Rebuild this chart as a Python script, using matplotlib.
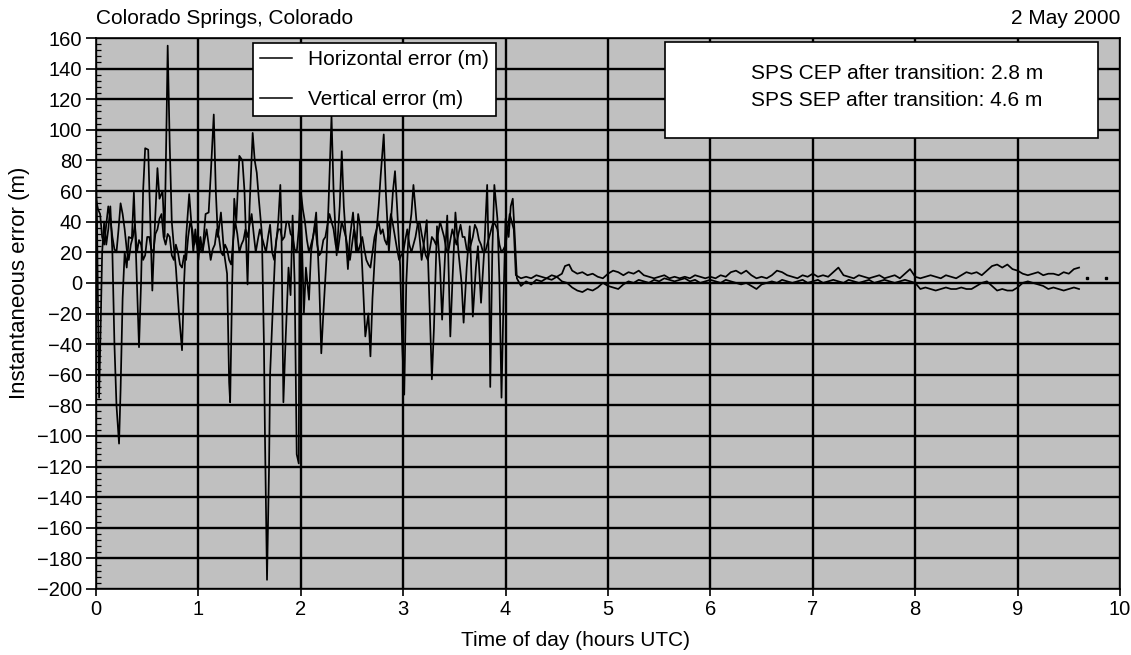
import matplotlib
matplotlib.use("Agg")
import matplotlib.pyplot as plt
from matplotlib.patches import Rectangle
from matplotlib.lines import Line2D
from matplotlib.ticker import MultipleLocator

plt.rcParams['font.family'] = ['Liberation Sans', 'DejaVu Sans']

# ---------------- data ----------------
vert_t = [0.00, 0.01, 0.02, 0.03, 0.045, 0.06, 0.08, 0.10, 0.12, 0.14, 0.16, 0.18, 0.20, 0.225, 0.24,
          0.26, 0.28, 0.30, 0.32, 0.35, 0.37, 0.39, 0.42, 0.44, 0.46, 0.48, 0.51, 0.53, 0.55, 0.57,
          0.60, 0.62, 0.65, 0.67, 0.69, 0.70, 0.72, 0.74, 0.76, 0.78, 0.81, 0.84, 0.86, 0.88, 0.91,
          0.93, 0.95, 0.97, 1.00, 1.02, 1.04, 1.07, 1.10, 1.12, 1.15, 1.17, 1.19, 1.22, 1.25, 1.28,
          1.30, 1.31, 1.33, 1.35, 1.37, 1.40, 1.43, 1.45, 1.48, 1.50, 1.53, 1.55, 1.57, 1.59, 1.62,
          1.64, 1.65, 1.67, 1.69, 1.70, 1.72, 1.75, 1.78, 1.80, 1.81, 1.83, 1.85, 1.88, 1.90, 1.92,
          1.94, 1.96, 1.98, 1.99, 2.01, 2.03, 2.05, 2.08, 2.10, 2.13, 2.15, 2.18, 2.20, 2.22, 2.25,
          2.27, 2.30, 2.32, 2.35, 2.38, 2.40, 2.42, 2.44, 2.46, 2.48, 2.51, 2.54, 2.56, 2.58, 2.60,
          2.63, 2.66, 2.68, 2.70, 2.73, 2.76, 2.78, 2.81, 2.83, 2.86, 2.88, 2.90, 2.92, 2.94, 2.97,
          2.99, 3.01, 3.03, 3.05, 3.08, 3.10, 3.13, 3.15, 3.18, 3.21, 3.23, 3.26, 3.28, 3.30, 3.33,
          3.36, 3.38, 3.41, 3.43, 3.46, 3.48, 3.51, 3.54, 3.57, 3.59, 3.62, 3.65, 3.68, 3.71, 3.73,
          3.76, 3.79, 3.82, 3.84, 3.85, 3.87, 3.89, 3.92, 3.94, 3.96, 3.98, 4.00, 4.03, 4.05, 4.07,
          4.09, 4.11,
          4.15, 4.20, 4.25, 4.30, 4.35, 4.40, 4.45, 4.50, 4.55, 4.60, 4.65, 4.70, 4.75, 4.80, 4.85,
          4.90, 4.95, 5.00, 5.05, 5.10, 5.15, 5.20, 5.25, 5.30, 5.35, 5.40, 5.45, 5.50, 5.55, 5.60,
          5.65, 5.70, 5.75, 5.80, 5.85, 5.90, 5.95, 6.00, 6.05, 6.10, 6.15, 6.20, 6.25, 6.30, 6.35,
          6.40, 6.45, 6.50, 6.55, 6.60, 6.65, 6.70, 6.75, 6.80, 6.85, 6.90, 6.95, 7.00, 7.05, 7.10,
          7.15, 7.20, 7.25, 7.30, 7.35, 7.40, 7.45, 7.50, 7.55, 7.60, 7.65, 7.70, 7.75, 7.80, 7.85,
          7.90, 7.95, 8.00, 8.05, 8.10, 8.15, 8.20, 8.25, 8.30, 8.35, 8.40, 8.45, 8.50, 8.55, 8.60,
          8.65, 8.70, 8.75, 8.80, 8.85, 8.90, 8.95, 9.00, 9.05, 9.10, 9.15, 9.20, 9.25, 9.30, 9.35,
          9.40, 9.45, 9.50, 9.55, 9.60]
vert_v = [70, 40, -20, -75, -30, 20, 40, 25, 35, 50, 20, -40, -80, -105, -70,
          -10, 20, 10, 30, 29, 59, 20, -42, 0, 60, 88, 87, 40, -5, 30,
          75, 55, 60, 30, 110, 155, 90, 40, 24, 10, -20, -44, 0, 30, 58,
          40, 20, 35, 15, 30, 20, 45, 46, 70, 110, 60, 30, 46, 20, 6,
          -65, -78, 0, 55, 40, 83, 80, 60, -1, 50, 98, 80, 72, 55, 32,
          -40, -100, -194, -120, -60, -27, 20, 40, 64, 40, -78, -40, 10, -8, 44,
          0, -112, -118, 80, 30, -20, 10, -11, 20, 35, 46, 0, -46, -20, 15,
          50, 109, 60, 18, 50, 86, 50, 30, 9, 30, 46, 20, 45, 37, 10,
          -35, -20, -48, -10, 26, 50, 70, 97, 60, 20, 40, 60, 73, 50, 11,
          -40, -73, 0, 29, 45, 64, 40, 37, 15, 30, 41, -20, -63, -30, 37,
          10, -24, 20, 44, -35, 0, 46, 20, 0, -26, 10, 37, -22, 10, 24,
          -13, 20, 64, 0, -68, 20, 64, 42, 0, -75, -10, 42, 30, 50, 55,
          30, 3,
          -2, 1, -1, 2, 1, 3, 2, 4, 1, 0, -3, -5, -6, -4, -5,
          -3, 0, -2, -3, -4, -1, 1, 0, 2, 1, 0, 2, 1, 3, 2,
          1, 2, 3, 1, 2, 0, 1, 2, 1, 0, 2, 1, 0, -1, 0,
          -2, -4, -1, 0, 1, 0, 2, 1, 0, 1, 2, 0, 1, 2, 0,
          1, 2, 1, 0, 2, 1, 0, 1, 2, 0, 1, 2, 1, 0, 1,
          2, 1, 0, -4, -3, -4, -5, -4, -3, -4, -4, -3, -4, -4, -2,
          0, 1, -2, -5, -4, -5, -5, -3, 0, 1, 0, -1, -2, -4, -3,
          -4, -5, -4, -3, -4]

# horizontal error before the transition, sampled every 0.02 h from 0.00 to 4.10 h
horiz_v1 = [55, 48, 45, 30, 25, 38, 50, 42, 30, 22,
            20, 35, 52, 45, 35, 22, 15, 25, 30, 38,
            20, 28, 25, 15, 18, 30, 30, 22, 20, 32,
            35, 42, 45, 30, 25, 32, 30, 18, 15, 25,
            20, 12, 10, 18, 15, 30, 40, 35, 25, 30,
            30, 22, 20, 28, 35, 25, 15, 22, 25, 35,
            30, 20, 18, 25, 22, 15, 12, 28, 40, 32,
            20, 25, 28, 35, 30, 38, 45, 32, 20, 28,
            35, 30, 25, 20, 30, 38, 20, 15, 28, 35,
            35, 28, 30, 40, 40, 32, 30, 22, 20, 35,
            60, 48, 40, 28, 20, 25, 30, 38, 25, 18,
            20, 28, 30, 38, 45, 40, 35, 25, 20, 30,
            40, 35, 30, 22, 15, 25, 35, 28, 20, 25,
            30, 22, 15, 12, 10, 20, 30, 35, 40, 32,
            35, 28, 25, 35, 45, 38, 30, 22, 15, 18,
            20, 28, 35, 25, 20, 25, 30, 38, 40, 32,
            25, 18, 15, 22, 30, 28, 25, 32, 40, 35,
            30, 22, 20, 28, 35, 30, 25, 32, 38, 30,
            30, 22, 20, 25, 30, 38, 35, 28, 25, 20,
            20, 25, 30, 35, 40, 38, 35, 25, 20, 22,
            25, 35, 45, 40, 35, 5]
horiz_t1 = [round(0.02 * i, 2) for i in range(len(horiz_v1))]

# horizontal error after the transition
horiz_t2 = [4.15, 4.20, 4.25, 4.30, 4.35, 4.40, 4.45, 4.50, 4.55, 4.58, 4.62, 4.65, 4.70, 4.75, 4.80,
            4.85, 4.90, 4.95, 5.00, 5.05, 5.10, 5.15, 5.20, 5.25, 5.30, 5.35, 5.40, 5.45, 5.50, 5.55,
            5.60, 5.65, 5.70, 5.75, 5.80, 5.85, 5.90, 5.95, 6.00, 6.05, 6.10, 6.15, 6.20, 6.25, 6.30,
            6.35, 6.40, 6.45, 6.50, 6.55, 6.60, 6.65, 6.70, 6.75, 6.80, 6.85, 6.90, 6.95, 7.00, 7.05,
            7.10, 7.15, 7.20, 7.25, 7.30, 7.35, 7.40, 7.45, 7.50, 7.55, 7.60, 7.65, 7.70, 7.75, 7.80,
            7.85, 7.90, 7.95, 8.00, 8.05, 8.10, 8.15, 8.20, 8.25, 8.30, 8.35, 8.40, 8.45, 8.50, 8.55,
            8.60, 8.65, 8.70, 8.75, 8.80, 8.85, 8.90, 8.95, 9.00, 9.05, 9.10, 9.15, 9.20, 9.25, 9.30,
            9.35, 9.40, 9.45, 9.50, 9.55, 9.60]
horiz_v2 = [3, 4, 3, 5, 4, 3, 5, 4, 6, 11, 12, 8, 6, 7, 5,
            6, 4, 3, 6, 8, 7, 5, 7, 6, 8, 5, 4, 3, 4, 5,
            3, 4, 3, 4, 3, 5, 4, 3, 4, 3, 5, 4, 7, 8, 6,
            8, 5, 3, 4, 3, 5, 8, 7, 5, 4, 3, 5, 4, 6, 4,
            5, 4, 7, 10, 5, 4, 3, 5, 4, 3, 4, 5, 3, 4, 5,
            3, 6, 9, 4, 3, 4, 5, 4, 3, 5, 4, 3, 5, 7, 6,
            7, 5, 8, 11, 12, 10, 12, 9, 8, 6, 5, 6, 7, 5, 6,
            6, 5, 7, 6, 9, 10]

dots_t = [9.68, 9.86]
dots_v = [3, 3]

y_ticks = list(range(-200, 161, 20))
x_ticks = list(range(0, 11))
legend_labels = ["Horizontal error (m)", "Vertical error (m)"]
stats_lines = ["SPS CEP after transition: 2.8 m", "SPS SEP after transition: 4.6 m"]

# ---------------- figure ----------------
FS = 15
fig = plt.figure(figsize=(11.31, 6.55), dpi=100)
ax = fig.add_axes([96 / 1131, 1 - 589 / 655, 1024 / 1131, 551 / 655])
ax.set_facecolor("#c0c0c0")

ax.set_xlim(0, 10)
ax.set_ylim(-200, 160)
ax.set_xticks(x_ticks)
ax.set_yticks(y_ticks)
ax.yaxis.set_minor_locator(MultipleLocator(4))
ax.grid(True, which="major", color="black", linewidth=1.7)
ax.set_axisbelow(True)

ax.plot(horiz_t1 + horiz_t2, horiz_v1 + horiz_v2, color="black", linewidth=1.25, zorder=3)
ax.plot(vert_t, vert_v, color="black", linewidth=1.25, zorder=3)
ax.plot(dots_t, dots_v, linestyle="none", marker="s", markersize=2, color="black", zorder=3)

for s in ax.spines.values():
    s.set_color("black")
    s.set_linewidth(1.2)
ax.tick_params(axis="both", which="major", labelsize=14.5, width=1.2, color="black")
ax.tick_params(axis="x", which="major", direction="out", length=5, pad=3)
ax.tick_params(axis="y", which="major", direction="out", length=7, pad=3)
ax.tick_params(axis="y", which="minor", direction="in", length=3.5, width=0.9)

ax.set_xlabel("Time of day (hours UTC)", fontsize=FS)
ax.xaxis.set_label_coords(0.468, -0.077)
ax.set_ylabel("Instantaneous error (m)", fontsize=FS + 1)
ax.yaxis.set_label_coords(-0.064, 0.555)

# legend
handles = [Line2D([], [], color="black", linewidth=1.1), Line2D([], [], color="black", linewidth=1.1)]
leg = ax.legend(handles, legend_labels, loc="upper left", bbox_to_anchor=(0.153, 0.991),
                fontsize=FS, frameon=True, fancybox=False, framealpha=1, edgecolor="black",
                handlelength=1.55, handletextpad=0.77, borderpad=0.35, labelspacing=1.0,
                borderaxespad=0)
leg.get_frame().set_linewidth(1.2)
leg.set_zorder(5)

# statistics box
ax.add_patch(Rectangle((0.5557, 0.8185), 0.4228, 0.1742, transform=ax.transAxes,
                       facecolor="white", edgecolor="black", linewidth=1.2, zorder=5))
ax.text(0.782, 0.936, stats_lines[0], transform=ax.transAxes, ha="center", va="center",
        fontsize=FS, zorder=6)
ax.text(0.782, 0.886, stats_lines[1], transform=ax.transAxes, ha="center", va="center",
        fontsize=FS, zorder=6)

fig.text(96 / 1131, 1 - 18 / 655, "Colorado Springs, Colorado", ha="left", va="center", fontsize=FS)
fig.text(1120 / 1131, 1 - 18 / 655, "2 May 2000", ha="right", va="center", fontsize=FS)

fig.savefig("out.png", dpi=100, facecolor="white")
